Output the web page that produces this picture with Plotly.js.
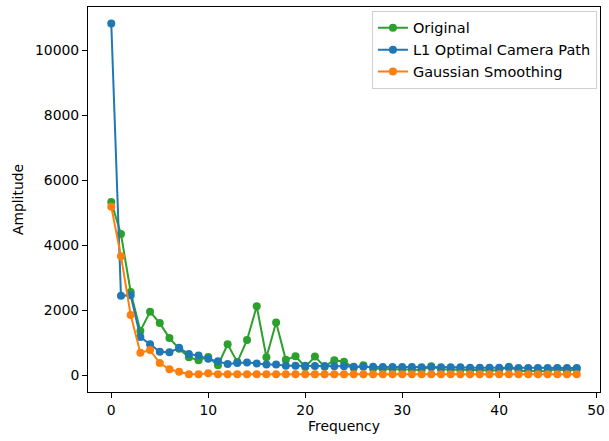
<!DOCTYPE html>
<html>
<head>
<meta charset="utf-8">
<script src="https://cdn.plot.ly/plotly-3.0.1.min.js"></script>
<style>html,body{margin:0;padding:0;background:#fff;}#chart{width:609px;height:441px;}</style>
</head>
<body>
<div id="chart"></div>
<script>
// Frequency bins 0..48
const frequency = [0,1,2,3,4,5,6,7,8,9,10,11,12,13,14,15,16,17,18,19,20,21,22,23,24,25,26,27,28,29,30,31,32,33,34,35,36,37,38,39,40,41,42,43,44,45,46,47,48];

const original = [5330,4340,2560,1360,1950,1600,1140,810,550,460,560,300,950,400,1080,2120,550,1620,470,580,250,570,260,460,410,230,300,200,190,190,180,170,160,270,180,170,160,150,150,140,140,260,130,130,120,120,200,120,190];

const l1Path = [10820,2440,2460,1170,950,720,700,840,650,600,500,430,340,370,390,360,330,330,290,290,290,280,280,270,270,260,260,260,250,250,250,250,240,240,240,240,240,230,230,230,230,230,220,220,220,220,220,220,220];

const gaussian = [5180,3660,1850,690,770,370,180,100,30,30,60,30,30,30,30,30,30,30,30,30,30,30,30,30,30,30,30,30,30,30,30,30,30,30,30,30,30,30,30,30,30,30,30,30,30,30,30,30,30];

const seriesNames = ["Original", "L1 Optimal Camera Path", "Gaussian Smoothing"];
const seriesColors = ["#2ca02c", "#1f77b4", "#ff7f0e"];
const seriesValues = [original, l1Path, gaussian];

const traces = seriesValues.map((vals, k) => ({
  x: frequency,
  y: vals,
  type: "scatter",
  mode: "lines+markers",
  name: seriesNames[k],
  line: {color: seriesColors[k], width: 2},
  marker: {color: seriesColors[k], size: 8}
}));

const fontFam = "DejaVu Sans, sans-serif";
const layout = {
  width: 609,
  height: 441,
  margin: {l: 88, r: 9, t: 7, b: 49, pad: 0},
  paper_bgcolor: "#ffffff",
  plot_bgcolor: "#ffffff",
  font: {family: fontFam, size: 13.9, color: "#000"},
  showlegend: true,
  legend: {
    x: 0.994, y: 0.99, xanchor: "right", yanchor: "top",
    bgcolor: "rgba(255,255,255,0.8)",
    bordercolor: "#d0d0d0", borderwidth: 1,
    font: {family: fontFam, size: 14.5, color: "#000"}
  },
  xaxis: {
    range: [-2.4, 50.4],
    tick0: 0, dtick: 10,
    showgrid: false, zeroline: false,
    showline: true, mirror: true, linecolor: "#000", linewidth: 1,
    ticks: "outside", ticklen: 5, tickwidth: 1, tickcolor: "#000",
    tickfont: {family: fontFam, size: 13.9, color: "#000"},
    title: {text: "Frequency", font: {family: fontFam, size: 13.9, color: "#000"}, standoff: 4}
  },
  yaxis: {
    range: [-520, 11330],
    tick0: 0, dtick: 2000,
    tickformat: "d",
    showgrid: false, zeroline: false,
    showline: true, mirror: true, linecolor: "#000", linewidth: 1,
    ticks: "outside", ticklen: 5, tickwidth: 1, tickcolor: "#000",
    tickfont: {family: fontFam, size: 13.9, color: "#000"},
    title: {text: "Amplitude", font: {family: fontFam, size: 13.9, color: "#000"}, standoff: 8}
  }
};

Plotly.newPlot("chart", traces, layout, {displayModeBar: false, staticPlot: true});
</script>
</body>
</html>
